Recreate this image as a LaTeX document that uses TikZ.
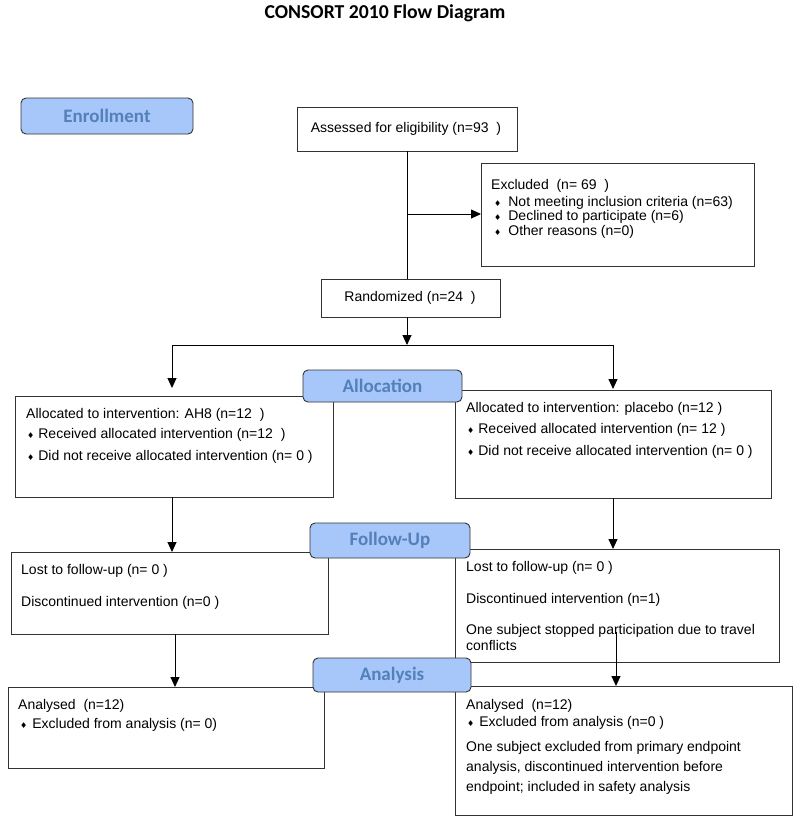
\documentclass[tikz,border=0pt]{standalone}
\usepackage{fontspec}
\setmainfont{Liberation Sans}
\newfontfamily\carlito{Carlito}
\newfontfamily\dejavu{DejaVu Sans}
\usetikzlibrary{arrows.meta}
\definecolor{labfill}{RGB}{167,199,250}
\definecolor{labtext}{RGB}{84,128,186}
\newcommand\bul{{\dejavu\fontsize{8}{8}\selectfont ♦}}
\begin{document}
\begin{tikzpicture}[x=1pt,y=-1pt,
 box/.style={draw=black!80,line width=0.9pt,inner sep=0pt,outer sep=0pt},
 lab/.style={draw=black!80,line width=0.9pt,rounded corners=5pt,fill=labfill,text=labtext,font=\carlito\bfseries\fontsize{19}{21}\selectfont,inner sep=0pt,outer sep=0pt},
 txt/.style={anchor=west,inner sep=0pt,font=\fontsize{14}{16}\selectfont,text height=10pt,text depth=3pt},
 ctxt/.style={inner sep=0pt,font=\fontsize{14}{16}\selectfont,text height=10pt,text depth=3pt},
 arr/.style={-{Triangle[length=10pt,width=9pt]},line width=0.9pt},
 ln/.style={line width=0.9pt}]
\fill[white] (0,0) rectangle (800,823);
\useasboundingbox (0,0) rectangle (800,823);

\node[font=\carlito\bfseries\fontsize{19.7}{21}\selectfont] (title) at (385,13) {CONSORT 2010 Flow Diagram};

% boxes
\node[box,minimum width=220pt,minimum height=44pt] (assess) at (407,129) {};
\node[box,minimum width=273pt,minimum height=103pt] (excl) at (617.5,214.5) {};
\node[box,minimum width=179pt,minimum height=38pt] (rand) at (410.5,298) {};
\node[box,minimum width=318pt,minimum height=101pt] (allocL) at (174,446.5) {};
\node[box,minimum width=316pt,minimum height=108pt] (allocR) at (613,444) {};
\node[box,minimum width=317pt,minimum height=82pt] (fuL) at (169.5,593) {};
\node[box,minimum width=324pt,minimum height=113pt] (fuR) at (617,605.5) {};
\node[box,minimum width=316pt,minimum height=81pt] (anL) at (166,727.5) {};
\node[box,minimum width=337pt,minimum height=129pt] (anR) at (623.5,750.5) {};

% texts
\node[ctxt] (tAssess) at (406,129) {Assessed for eligibility (n=93\ \ )};
\node[txt] (tEx1) at (491,186) {Excluded\ \ (n= 69\ \ )};
\node[txt] (tEx2) at (494,203) {\bul\hspace{7pt}Not meeting inclusion criteria (n=63)};
\node[txt] (tEx3) at (494,217) {\bul\hspace{7pt}Declined to participate (n=6)};
\node[txt] (tEx4) at (494,232) {\bul\hspace{7pt}Other reasons (n=0)};
\node[ctxt] (tRand) at (410,298) {Randomized (n=24\ \ )};

\node[txt] (tAL1) at (26,415) {Allocated to intervention: AH8 (n=12\ \ )};
\node[txt] (tAL2) at (27,435) {\bul\hspace{4pt}Received allocated intervention (n=12\ \ )};
\node[txt] (tAL3) at (27,457) {\bul\hspace{4pt}Did not receive allocated intervention (n= 0 )};
\node[txt] (tAR1) at (466,409) {Allocated to intervention: placebo (n=12 )};
\node[txt] (tAR2) at (467,430) {\bul\hspace{4pt}Received allocated intervention (n= 12 )};
\node[txt] (tAR3) at (467,452) {\bul\hspace{4pt}Did not receive allocated intervention (n= 0 )};

\node[txt] (tFL1) at (21,571) {Lost to follow-up (n= 0 )};
\node[txt] (tFL2) at (21,603) {Discontinued intervention (n=0 )};
\node[txt] (tFR1) at (466,568) {Lost to follow-up (n= 0 )};
\node[txt] (tFR2) at (466,600) {Discontinued intervention (n=1)};
\node[txt] (tFR3) at (466,631) {One subject stopped participation due to travel};
\node[txt] (tFR4) at (466,647) {conflicts};

\node[txt] (tNL1) at (18,706) {Analysed\ \ (n=12)};
\node[txt] (tNL2) at (20,725) {\bul\hspace{5pt}Excluded from analysis (n= 0)};
\node[txt] (tNR1) at (466,706) {Analysed\ \ (n=12)};
\node[txt] (tNR2) at (467,723) {\bul\hspace{5pt}Excluded from analysis (n=0 )};
\node[txt] (tNR3) at (466,748) {One subject excluded from primary endpoint};
\node[txt] (tNR4) at (466,768) {analysis, discontinued intervention before};
\node[txt] (tNR5) at (466,788) {endpoint; included in safety analysis};

% connectors
\coordinate (ex) at (407,214);
\coordinate (hC) at (407,345);
\coordinate (hL) at (172,345);
\coordinate (hR) at (613,345);
\coordinate (aL) at (172,388);
\coordinate (aR) at (613,389);
\coordinate (xL2) at (175,0);
\coordinate (rs) at (616,632);

\draw[ln] (assess.south) -- (assess.south |- rand.north);
\draw[arr] (ex) -- (excl.west |- ex);
\draw[arr] (assess.south |- rand.south) -- (hC);
\draw[ln] (hL) -- (hR);
\draw[arr] (hL) -- (aL);
\draw[arr] (hR) -- (aR);
\draw[arr] (allocL.south -| hL) -- (fuL.north -| hL);
\draw[arr] (allocR.south) -- (allocR.south |- fuR.north);
\draw[arr] (fuL.south -| xL2) -- (anL.north -| xL2);
\draw[arr] (rs) -- (rs |- anR.north);

% stage labels
\node[lab,minimum width=172pt,minimum height=36pt] (enroll) at (107,116) {Enrollment};
\node[lab,minimum width=159pt,minimum height=32pt] (allocLab) at (382.5,386) {Allocation};
\node[lab,minimum width=160pt,minimum height=35pt] (fuLab) at (390,540.5) {Follow-Up};
\node[lab,minimum width=158pt,minimum height=34pt] (anLab) at (392,675) {Analysis};
\end{tikzpicture}
\end{document}
